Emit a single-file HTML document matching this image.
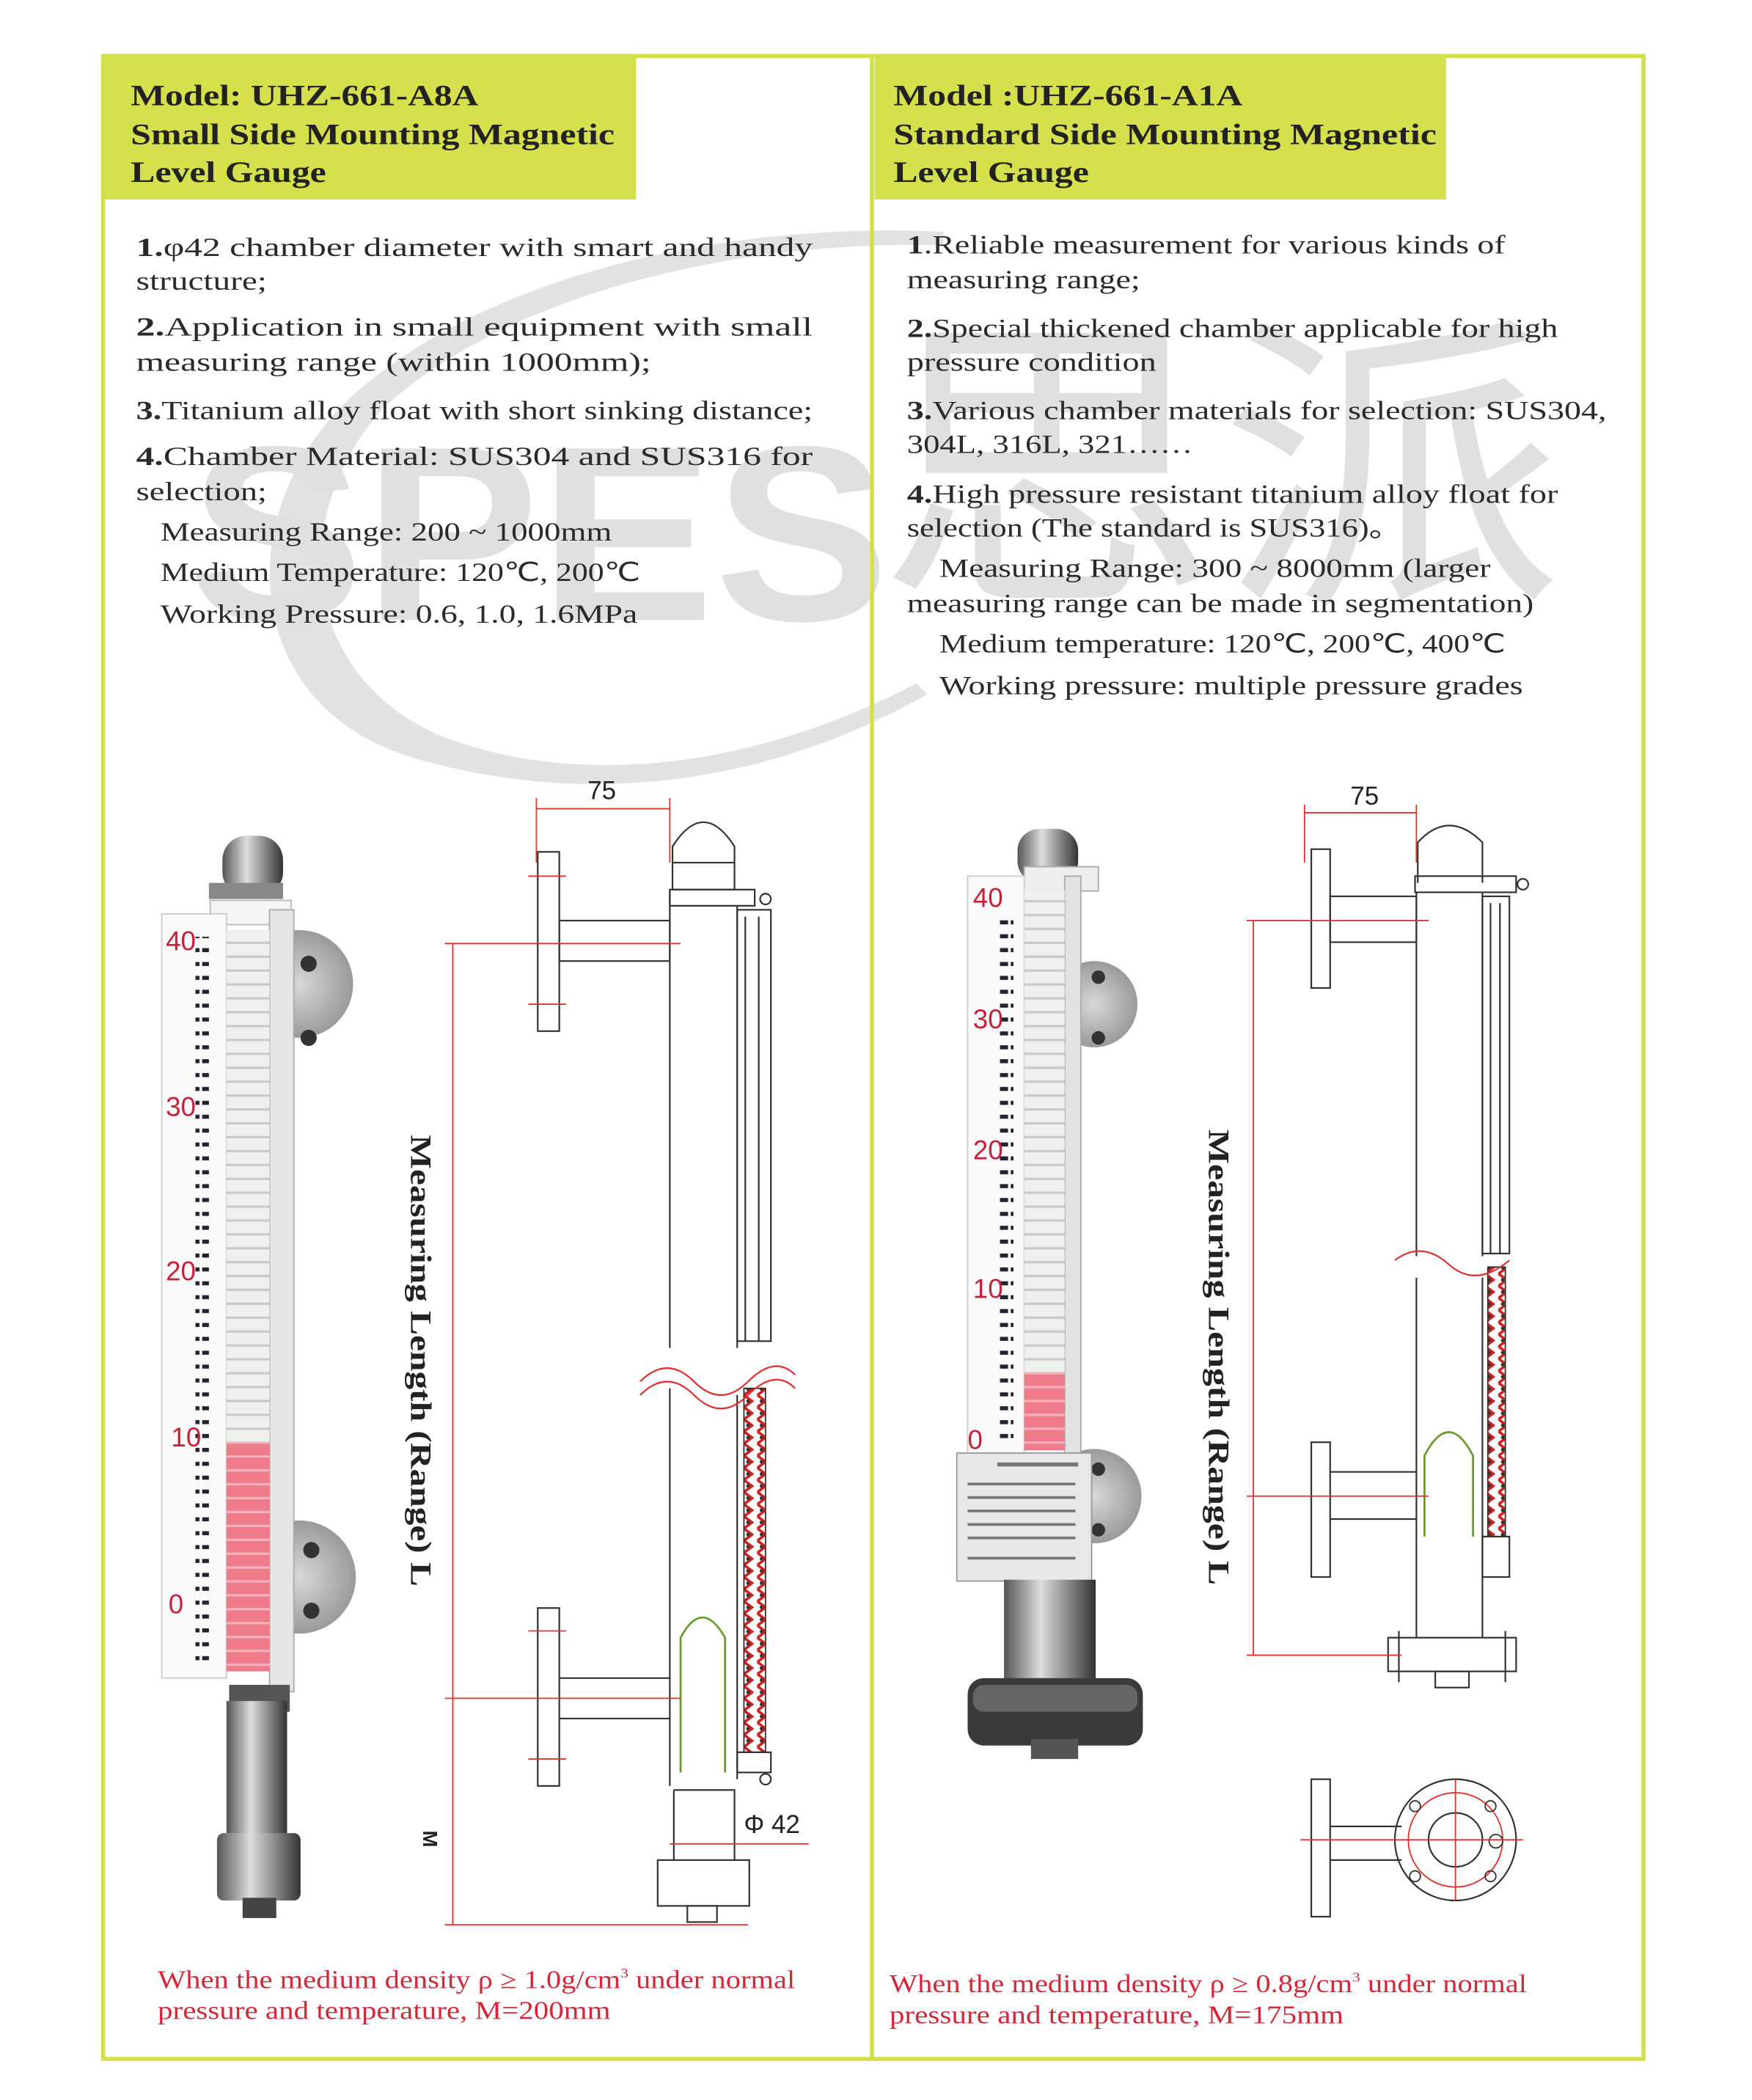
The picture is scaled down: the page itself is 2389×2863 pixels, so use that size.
<!DOCTYPE html>
<html><head><meta charset="utf-8"><style>
html,body{margin:0;padding:0;background:#fff}
svg{display:block}
.h{font-family:"Liberation Serif",serif;font-weight:bold;font-size:22px;fill:#222}
.b{font-family:"Liberation Serif",serif;font-size:19.5px;fill:#2a2a2a}
.r{font-family:"Liberation Serif",serif;font-size:19px;fill:#d4283a}
.d{font-family:"Liberation Sans",sans-serif;font-size:19px;fill:#222}
.ln{fill:none;stroke:#333;stroke-width:1.2}
.rd{fill:none;stroke:#e0332f;stroke-width:1}
.num{font-family:"Liberation Sans",sans-serif;font-size:20px;fill:#c8203a}
</style></head><body>
<svg width="2389" height="2863" viewBox="0 0 1300 1558" xmlns="http://www.w3.org/2000/svg">
<defs>
<pattern id="tk" x="0" y="0" width="10" height="10.3" patternUnits="userSpaceOnUse"><rect x="0" y="3" width="8" height="3" fill="#223"/></pattern>
<pattern id="fl" x="0" y="0" width="10" height="10.3" patternUnits="userSpaceOnUse"><rect width="10" height="10.3" fill="#eef0ee"/><rect y="8.5" width="10" height="1.8" fill="#c9cbc9"/></pattern>
<pattern id="flr" x="0" y="0" width="10" height="10.3" patternUnits="userSpaceOnUse"><rect width="10" height="10.3" fill="#ee7a8a"/><rect y="8.5" width="10" height="1.8" fill="#f4b0bc"/></pattern>
<pattern id="ch" x="0" y="0" width="10" height="9" patternUnits="userSpaceOnUse"><path d="M2 0 L8 4.5 L2 9" fill="none" stroke="#c22" stroke-width="2"/><circle cx="5" cy="4.5" r="1.3" fill="#333"/></pattern>
<linearGradient id="met" x1="0" x2="1"><stop offset="0" stop-color="#555"/><stop offset=".4" stop-color="#ddd"/><stop offset=".7" stop-color="#888"/><stop offset="1" stop-color="#333"/></linearGradient>
<radialGradient id="disc"><stop offset="0" stop-color="#d8d8d8"/><stop offset="1" stop-color="#9a9a9a"/></radialGradient>
</defs>
<rect width="1300" height="1558" fill="#fff"/>
<!-- watermark -->
<g fill="#e2e2e2">
<path d="M300 560 C180 520 170 380 260 295 C370 195 560 165 700 172 L700 182 C560 178 385 212 285 302 C210 385 225 505 330 547 C430 585 560 570 680 507 L688 515 C560 588 420 598 300 560Z"/>
<text x="140" y="460" font-family="Liberation Sans,sans-serif" font-weight="bold" font-size="185" fill="#e0e0e0" textLength="520" lengthAdjust="spacingAndGlyphs">SPES</text>
<text x="650" y="430" font-family="Noto Sans CJK SC,sans-serif" font-size="230" fill="#e0e0e0" textLength="510" lengthAdjust="spacingAndGlyphs">思派</text>
</g>
<!-- headers -->
<rect x="76" y="41" width="396" height="107" fill="#d6e04c"/>
<rect x="649" y="41" width="424" height="107" fill="#d6e04c"/>
<rect x="76.5" y="41.5" width="1143" height="1486" fill="none" stroke="#d2de4a" stroke-width="3"/>
<line x1="647" y1="41" x2="647" y2="1528" stroke="#d2de4a" stroke-width="3"/>
<g class="h">
<text x="97" y="78" textLength="258" lengthAdjust="spacingAndGlyphs">Model: UHZ-661-A8A</text>
<text x="97" y="107" textLength="359" lengthAdjust="spacingAndGlyphs">Small Side Mounting Magnetic</text>
<text x="97" y="135" textLength="145" lengthAdjust="spacingAndGlyphs">Level Gauge</text>
<text x="663" y="78" textLength="259" lengthAdjust="spacingAndGlyphs">Model :UHZ-661-A1A</text>
<text x="663" y="107" textLength="403" lengthAdjust="spacingAndGlyphs">Standard Side Mounting Magnetic</text>
<text x="663" y="135" textLength="145" lengthAdjust="spacingAndGlyphs">Level Gauge</text>
</g>
<!-- left text -->
<g class="b">
<text x="101" y="190" textLength="502" lengthAdjust="spacingAndGlyphs"><tspan font-weight="bold">1.</tspan>φ42 chamber diameter with smart and handy</text>
<text x="101" y="215" textLength="97" lengthAdjust="spacingAndGlyphs">structure;</text>
<text x="101" y="249" textLength="502" lengthAdjust="spacingAndGlyphs"><tspan font-weight="bold">2.</tspan>Application in small equipment with small</text>
<text x="101" y="275" textLength="382" lengthAdjust="spacingAndGlyphs">measuring range (within 1000mm);</text>
<text x="101" y="311" textLength="502" lengthAdjust="spacingAndGlyphs"><tspan font-weight="bold">3.</tspan>Titanium alloy float with short sinking distance;</text>
<text x="101" y="345" textLength="502" lengthAdjust="spacingAndGlyphs"><tspan font-weight="bold">4.</tspan>Chamber Material: SUS304 and SUS316 for</text>
<text x="101" y="371" textLength="97" lengthAdjust="spacingAndGlyphs">selection;</text>
<text x="119" y="401" textLength="335" lengthAdjust="spacingAndGlyphs">Measuring Range: 200 ~ 1000mm</text>
<text x="119" y="431" textLength="356" lengthAdjust="spacingAndGlyphs">Medium Temperature: 120℃, 200℃</text>
<text x="119" y="462" textLength="354" lengthAdjust="spacingAndGlyphs">Working Pressure: 0.6, 1.0, 1.6MPa</text>
</g>
<g class="b">
<text x="673" y="188" textLength="444" lengthAdjust="spacingAndGlyphs"><tspan font-weight="bold">1</tspan>.Reliable measurement for various kinds of</text>
<text x="673" y="214" textLength="173" lengthAdjust="spacingAndGlyphs">measuring range;</text>
<text x="673" y="250" textLength="483" lengthAdjust="spacingAndGlyphs"><tspan font-weight="bold">2.</tspan>Special thickened chamber applicable for high</text>
<text x="673" y="275" textLength="185" lengthAdjust="spacingAndGlyphs">pressure condition</text>
<text x="673" y="311" textLength="519" lengthAdjust="spacingAndGlyphs"><tspan font-weight="bold">3.</tspan>Various chamber materials for selection: SUS304,</text>
<text x="673" y="336" textLength="212" lengthAdjust="spacingAndGlyphs">304L, 316L, 321……</text>
<text x="673" y="373" textLength="483" lengthAdjust="spacingAndGlyphs"><tspan font-weight="bold">4.</tspan>High pressure resistant titanium alloy float for</text>
<text x="673" y="398" textLength="367" lengthAdjust="spacingAndGlyphs">selection (The standard is SUS316)。</text>
<text x="697" y="428" textLength="409" lengthAdjust="spacingAndGlyphs">Measuring Range: 300 ~ 8000mm (larger</text>
<text x="673" y="454" textLength="465" lengthAdjust="spacingAndGlyphs">measuring range can be made in segmentation)</text>
<text x="697" y="484" textLength="420" lengthAdjust="spacingAndGlyphs">Medium temperature: 120℃, 200℃, 400℃</text>
<text x="697" y="515" textLength="433" lengthAdjust="spacingAndGlyphs">Working pressure: multiple pressure grades</text>
</g>
<!-- LEFT PHOTO -->
<circle cx="222" cy="730" r="40" fill="url(#disc)"/><circle cx="229" cy="715" r="6" fill="#333"/><circle cx="229" cy="770" r="6" fill="#333"/>
<circle cx="222" cy="1170" r="42" fill="url(#disc)"/><circle cx="231" cy="1150" r="6" fill="#333"/><circle cx="231" cy="1195" r="6" fill="#333"/>
<rect x="165" y="620" width="45" height="45" rx="18" fill="url(#met)"/>
<rect x="155" y="655" width="55" height="12" fill="#888"/>
<rect x="156" y="668" width="60" height="18" fill="#f4f4f4" stroke="#bbb"/>
<rect x="200" y="675" width="18" height="580" fill="#e6e6e6" stroke="#aaa"/>
<rect x="120" y="678" width="48" height="567" fill="#fafafa" stroke="#ccc"/>
<rect x="145" y="695" width="10" height="540" fill="url(#tk)"/>
<rect x="168" y="690" width="32" height="380" fill="url(#fl)"/>
<rect x="168" y="1070" width="32" height="170" fill="url(#flr)"/>
<text class="num" x="123" y="705">40</text><text class="num" x="123" y="828">30</text><text class="num" x="123" y="950">20</text><text class="num" x="127" y="1073">10</text><text class="num" x="125" y="1197" font-size="34">0</text>
<rect x="170" y="1250" width="45" height="20" fill="#555"/>
<rect x="168" y="1262" width="45" height="100" fill="url(#met)"/>
<rect x="161" y="1360" width="62" height="50" rx="5" fill="url(#met)"/>
<rect x="180" y="1408" width="25" height="15" fill="#444"/>
<!-- LEFT DRAWING -->
<path class="ln" d="M499 660 L499 628 Q522 592 545 628 L545 660 Z M499 640 L545 640"/>
<rect class="ln" x="497" y="660" width="63" height="12"/><circle class="ln" cx="568" cy="667" r="4"/>
<line class="ln" x1="497" y1="660" x2="497" y2="1000"/><line class="ln" x1="547" y1="672" x2="547" y2="1000"/>
<line class="ln" x1="497" y1="1030" x2="497" y2="1325"/><line class="ln" x1="547" y1="1035" x2="547" y2="1320"/>
<rect class="ln" x="547" y="675" width="25" height="320"/><line class="ln" x1="553" y1="680" x2="553" y2="995"/><line class="ln" x1="563" y1="680" x2="563" y2="995"/>
<rect x="552" y="1030" width="16" height="270" fill="url(#ch)" stroke="#333"/>
<rect class="ln" x="547" y="1300" width="25" height="15"/><circle class="ln" cx="568" cy="1320" r="4"/>
<path d="M475 1025 Q495 1005 515 1025 T555 1025 T590 1020 M475 1035 Q495 1015 515 1035 T555 1035 T590 1030" fill="none" stroke="#d33" stroke-width="1.2"/>
<rect class="ln" x="399" y="632" width="16" height="133"/><rect class="ln" x="415" y="683" width="82" height="30"/>
<rect class="ln" x="399" y="1193" width="16" height="132" /><path class="ln" d="M415 1245 L497 1245 M415 1275 L497 1275"/>
<path d="M505 1315 L505 1215 Q521 1185 538 1215 L538 1315" fill="none" stroke="#6a9a30" stroke-width="1.5"/>
<path class="ln" d="M500 1328 L545 1328 L545 1380 M500 1328 L500 1380"/>
<rect class="ln" x="488" y="1380" width="68" height="34"/><rect class="ln" x="510" y="1414" width="22" height="12"/>
<g class="rd"><line x1="398" y1="600" x2="497" y2="600"/><line x1="398" y1="592" x2="398" y2="640"/><line x1="497" y1="592" x2="497" y2="640"/>
<line x1="330" y1="700" x2="505" y2="700"/><line x1="336" y1="700" x2="336" y2="1428"/><line x1="330" y1="1260" x2="505" y2="1260"/><line x1="330" y1="1428" x2="555" y2="1428"/>
<line x1="497" y1="1368" x2="547" y2="1368"/><line x1="547" y1="1368" x2="600" y2="1368"/>
<line x1="392" y1="650" x2="420" y2="650"/><line x1="392" y1="745" x2="420" y2="745"/><line x1="392" y1="1210" x2="420" y2="1210"/><line x1="392" y1="1305" x2="420" y2="1305"/></g>
<text class="d" x="436" y="593">75</text>
<text class="d" x="552" y="1360">Φ 42</text>
<text transform="translate(305,842) rotate(90)" font-family="Liberation Serif,serif" font-weight="bold" font-size="22" fill="#222" textLength="335" lengthAdjust="spacingAndGlyphs">Measuring Length (Range) L</text>
<text transform="translate(314,1358) rotate(90)" font-family="Liberation Sans,sans-serif" font-weight="bold" font-size="15" fill="#222">M</text>
<!-- RIGHT PHOTO -->
<circle cx="812" cy="745" r="32" fill="url(#disc)"/><circle cx="815" cy="725" r="5" fill="#333"/><circle cx="815" cy="770" r="5" fill="#333"/>
<circle cx="812" cy="1110" r="35" fill="url(#disc)"/><circle cx="815" cy="1090" r="5" fill="#333"/><circle cx="815" cy="1135" r="5" fill="#333"/>
<rect x="755" y="615" width="45" height="40" rx="16" fill="url(#met)"/>
<rect x="760" y="643" width="55" height="18" fill="#eee" stroke="#aaa"/>
<rect x="790" y="650" width="12" height="430" fill="#e2e2e2" stroke="#aaa"/>
<rect x="718" y="650" width="42" height="428" fill="#fafafa" stroke="#ccc"/>
<rect x="742" y="680" width="10" height="390" fill="url(#tk)"/>
<rect x="760" y="660" width="30" height="358" fill="url(#fl)"/>
<rect x="760" y="1018" width="30" height="58" fill="url(#flr)"/>
<text class="num" x="722" y="673" font-size="17">40</text><text class="num" x="722" y="763" font-size="17">30</text><text class="num" x="722" y="860" font-size="17">20</text><text class="num" x="722" y="963" font-size="17">10</text><text class="num" x="718" y="1075" font-size="30">0</text>
<rect x="710" y="1078" width="100" height="95" fill="#e8e8e8" stroke="#999"/>
<g fill="#777"><rect x="740" y="1085" width="60" height="3"/><rect x="718" y="1100" width="80" height="2"/><rect x="718" y="1110" width="80" height="2"/><rect x="718" y="1120" width="80" height="2"/><rect x="718" y="1130" width="80" height="2"/><rect x="718" y="1140" width="80" height="2"/><rect x="718" y="1155" width="80" height="2"/></g>
<rect x="745" y="1172" width="68" height="80" fill="url(#met)"/>
<rect x="718" y="1245" width="130" height="50" rx="12" fill="#3a3a3a"/>
<rect x="722" y="1250" width="122" height="20" rx="8" fill="#666"/>
<rect x="765" y="1290" width="35" height="15" fill="#555"/>
<!-- RIGHT DRAWING -->
<path class="ln" d="M1052 655 L1052 625 Q1075 600 1100 625 L1100 655" stroke="#999"/>
<rect class="ln" x="1050" y="650" width="75" height="12"/><circle class="ln" cx="1130" cy="656" r="4"/>
<line class="ln" x1="1051" y1="662" x2="1051" y2="932"/><line class="ln" x1="1100" y1="662" x2="1100" y2="932"/>
<line class="ln" x1="1051" y1="948" x2="1051" y2="1215"/><line class="ln" x1="1100" y1="948" x2="1100" y2="1215"/>
<rect class="ln" x="1100" y="665" width="20" height="265"/><line class="ln" x1="1106" y1="670" x2="1106" y2="930"/><line class="ln" x1="1113" y1="670" x2="1113" y2="930"/>
<rect x="1104" y="940" width="13" height="200" fill="url(#ch)" stroke="#333"/>
<rect class="ln" x="1100" y="1140" width="20" height="30"/>
<path d="M1035 935 Q1055 920 1075 938 T1120 935" fill="none" stroke="#d33" stroke-width="1.2"/>
<rect class="ln" x="973" y="630" width="14" height="103"/><rect class="ln" x="987" y="665" width="64" height="34"/>
<rect class="ln" x="973" y="1070" width="14" height="100"/><path class="ln" d="M987 1092 L1051 1092 M987 1127 L1051 1127"/>
<path d="M1057 1140 L1057 1080 Q1075 1045 1093 1080 L1093 1140" fill="none" stroke="#6a9a30" stroke-width="1.5"/>
<rect class="ln" x="1030" y="1215" width="95" height="25"/><rect class="ln" x="1065" y="1240" width="25" height="12"/>
<path class="ln" d="M1038 1210 L1038 1248 M1117 1210 L1117 1248"/>
<circle class="ln" cx="1080" cy="1365" r="45"/><circle class="ln" cx="1080" cy="1365" r="20"/><circle class="rd" cx="1080" cy="1365" r="35"/>
<rect class="ln" x="973" y="1320" width="14" height="102"/><path class="ln" d="M987 1355 L1040 1355 M987 1380 L1040 1380"/>
<g fill="none" stroke="#333"><circle cx="1050" cy="1340" r="4"/><circle cx="1050" cy="1392" r="4"/><circle cx="1106" cy="1340" r="4"/><circle cx="1106" cy="1392" r="4"/><circle cx="1110" cy="1366" r="5"/></g>
<g class="rd"><line x1="968" y1="603" x2="1051" y2="603"/><line x1="968" y1="597" x2="968" y2="640"/><line x1="1051" y1="597" x2="1051" y2="640"/>
<line x1="925" y1="683" x2="1060" y2="683"/><line x1="930" y1="683" x2="930" y2="1228"/><line x1="925" y1="1110" x2="1060" y2="1110"/><line x1="925" y1="1228" x2="1040" y2="1228"/>
<line x1="965" y1="1365" x2="1130" y2="1365"/><line x1="1080" y1="1320" x2="1080" y2="1410"/></g>
<text class="d" x="1002" y="597">75</text>
<text transform="translate(897,838) rotate(90)" font-family="Liberation Serif,serif" font-weight="bold" font-size="22" fill="#222" textLength="338" lengthAdjust="spacingAndGlyphs">Measuring Length (Range) L</text>
<!-- footers -->
<text class="r" x="117" y="1475" textLength="473" lengthAdjust="spacingAndGlyphs">When the medium density ρ ≥ 1.0g/cm<tspan font-size="10" dy="-8">3</tspan><tspan dy="8"> under normal</tspan></text>
<text class="r" x="117" y="1498" textLength="336" lengthAdjust="spacingAndGlyphs">pressure and temperature, M=200mm</text>
<text class="r" x="660" y="1478" textLength="473" lengthAdjust="spacingAndGlyphs">When the medium density ρ ≥ 0.8g/cm<tspan font-size="10" dy="-8">3</tspan><tspan dy="8"> under normal</tspan></text>
<text class="r" x="660" y="1501" textLength="337" lengthAdjust="spacingAndGlyphs">pressure and temperature, M=175mm</text>
</svg>
</body></html>
